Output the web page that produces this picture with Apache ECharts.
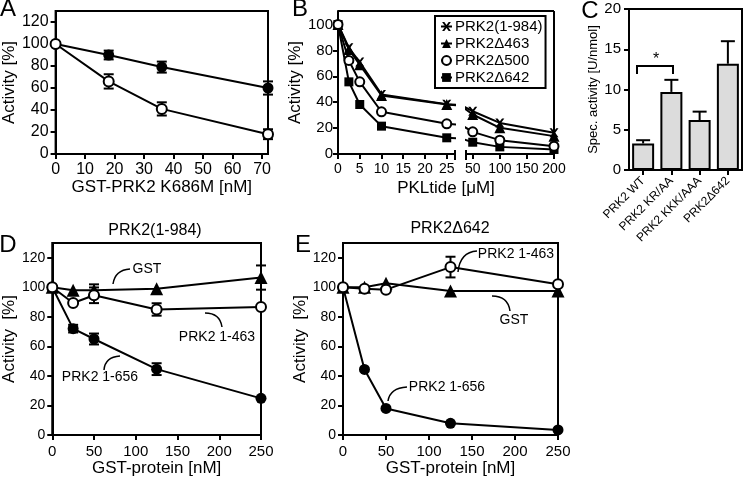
<!DOCTYPE html>
<html>
<head>
<meta charset="utf-8">
<script src="https://cdn.jsdelivr.net/npm/echarts@6/dist/echarts.min.js"></script>
<style>
  html, body { margin: 0; padding: 0; background: #fff; }
  #chart { width: 745px; height: 478px; }
</style>
</head>
<body>
<div id="chart"></div>
<script>
// ---- data ----
// A: GST-PRK2 K686M titration
const aDose = [0, 18, 36, 72]
const aFilled = [100, 90, 79, 60]
const aFilledErr = [0, 4, 5, 6]
const aOpen = [100, 66, 41, 18]
const aOpenErr = [0, 6.5, 6, 4.5]

// B: PKLtide titration (broken axis)
const pklDose = [0, 2.5, 5, 10, 25, 50, 100, 200]
const bNames = ['PRK2(1-984)', 'PRK2\u0394463', 'PRK2\u0394500', 'PRK2\u0394642']
const bFull = [100, 82, 71, 46, 38.5, 33, 24, 16.4]
const bD463 = [100, 80.7, 69, 45.2, 38.2, 30.5, 20.2, 13.8]
const bD500 = [100, 72.2, 55.7, 32.6, 23.3, 17.1, 10.7, 6]
const bD642 = [100, 55.7, 38.2, 21.5, 12.5, 9.1, 5.5, 3.5]
const bTicksLeft = [0, 5, 10, 15, 20, 25]
const bTicksRight = [50, 100, 150, 200]

// C: specific activity
const cCats = ['PRK2 WT', 'PRK2 KR/AA', 'PRK2 KKK/AAA', 'PRK2\u0394642']
const cVals = [3.3, 9.7, 6.2, 13.2]
const cErr = [0.4, 1.5, 1.05, 2.8]

// D: PRK2(1-984) + GST-proteins
const gstDose = [0, 25, 50, 125, 250]
const dGst = [100, 98, 98, 99, 106.6]
const dGstErr = [0, 0, 4, 0, 8.2]
const d463 = [100, 89.4, 94.6, 85, 86.7]
const d463Err = [0, 0, 5.3, 4.2, 0]
const d656 = [100, 72, 65, 44.6, 24.8]
const d656Err = [0, 2.6, 3.7, 4, 0]

// E: PRK2Δ642 + GST-proteins
const eGst = [100, 100, 102.7, 97.5, 97.5]
const e463 = [100, 99, 98.4, 113.7, 102]
const e463Err = [0, 0, 0, 7, 0]
const e656 = [100, 44.4, 18, 7.9, 3.4]

// ---- layout ----
const FONT = 'Liberation Sans, Arial, sans-serif'
const gA = { left: 52, top: 11, width: 216, height: 143 }
const gB1 = { left: 338, top: 11, width: 117, height: 143 }
const gB2 = { left: 466, top: 11, width: 88, height: 143 }
const gC = { left: 629, top: 9, width: 113, height: 161 }
const gD = { left: 49, top: 243, width: 212, height: 192 }
const gE = { left: 343, top: 243, width: 215, height: 192 }

const boxed = g => ({ ...g, show: true, borderColor: '#000', borderWidth: 2, containLabel: false })
const plain = g => ({ ...g, show: false, containLabel: false })

const axisBase = (fs, margin, hideMax) => ({
  axisLine: { show: true, onZero: false, lineStyle: { color: '#000', width: 2 } },
  axisTick: { show: true, length: 5, lineStyle: { color: '#000', width: 2 } },
  axisLabel: { color: '#000', fontSize: fs, fontFamily: FONT, margin: margin, showMaxLabel: !hideMax },
  splitLine: { show: false },
  nameTextStyle: { color: '#000', fontFamily: FONT, fontSize: 17 },
})

const CROSS = 'path://M0,0L2.5,0L5,3.2L7.5,0L10,0L6.4,5L10,10L7.5,10L5,6.8L2.5,10L0,10L3.6,5Z'

function line(name, idx, xs, ys, symbol, size, open, extra) {
  return Object.assign({
    name: name, type: 'line', xAxisIndex: idx, yAxisIndex: idx,
    data: xs.map((x, i) => [x, ys[i]]),
    symbol: symbol, symbolSize: size, showAllSymbol: true,
    lineStyle: { color: '#000', width: 2 },
    itemStyle: open ? { color: '#fff', borderColor: '#000', borderWidth: 2 } : { color: '#000', borderWidth: 0 },
    emphasis: { disabled: true }, animation: false, z: open ? 4 : 3,
  }, extra || {})
}

function errBars(idx, xs, ys, es, cap, upOnly) {
  return {
    type: 'custom', xAxisIndex: idx, yAxisIndex: idx, silent: true, animation: false, z: upOnly ? 5 : 2,
    data: xs.map((x, i) => [x, ys[i], es[i]]).filter(d => d[2] > 0),
    renderItem: (params, api) => {
      const x = api.value(0), y = api.value(1), e = api.value(2)
      const hi = api.coord([x, y + e])
      const lo = api.coord([x, upOnly ? y : y - e])
      const st = { stroke: '#000', lineWidth: 2 }
      const kids = [
        { type: 'line', shape: { x1: hi[0], y1: hi[1], x2: lo[0], y2: lo[1] }, style: st },
        { type: 'line', shape: { x1: hi[0] - cap, y1: hi[1], x2: hi[0] + cap, y2: hi[1] }, style: st },
      ]
      if (!upOnly) kids.push({ type: 'line', shape: { x1: lo[0] - cap, y1: lo[1], x2: lo[0] + cap, y2: lo[1] }, style: st })
      return { type: 'group', children: kids }
    },
  }
}

// B split into two x ranges; each half keeps one point past the break so the line runs to the gap
const leftIdx = pklDose.map((d, i) => i).filter(i => pklDose[i] <= 50)
const rightIdx = pklDose.map((d, i) => i).filter(i => pklDose[i] >= 25)
const pick = (arr, ids) => ids.map(i => arr[i])
const bSets = [
  [bNames[0], bFull, CROSS, 9, false],
  [bNames[1], bD463, 'triangle', 11, false],
  [bNames[2], bD500, 'circle', 9, true],
  [bNames[3], bD642, 'rect', 9, false],
]
const bSeries = []
bSets.forEach(([nm, vals, sym, sz, open]) => {
  bSeries.push(line(nm, 1, pick(pklDose, leftIdx), pick(vals, leftIdx), sym, sz, open, { clip: true, legendIcon: sym }))
  bSeries.push(line(nm, 2, pick(pklDose, rightIdx), pick(vals, rightIdx), sym, sz, open, { clip: true }))
})

// ---- annotation helpers ----
const txt = (x, y, s, size, align) => ({
  type: 'text', x: x, y: y, silent: true,
  style: { text: s, fontSize: size, fontFamily: FONT, fill: '#000', align: align || 'center', verticalAlign: 'middle' },
})
const curve = (x1, y1, cx, cy, x2, y2) => ({
  type: 'bezierCurve', silent: true,
  shape: { x1: x1, y1: y1, cpx1: cx, cpy1: cy, x2: x2, y2: y2 },
  style: { stroke: '#000', lineWidth: 1.5, fill: null },
})
const seg = (x1, y1, x2, y2) => ({
  type: 'line', silent: true, shape: { x1: x1, y1: y1, x2: x2, y2: y2 }, style: { stroke: '#000', lineWidth: 2 },
})

const bTop = gB1.top, bBottom = gB1.top + gB1.height, bRight = gB2.left + gB2.width

const option = {
  backgroundColor: '#fff',
  animation: false,
  grid: [boxed(gA), plain(gB1), plain(gB2), boxed(gC), boxed(gD), boxed(gE)],
  legend: {
    data: bNames, left: 435, top: 16, orient: 'vertical',
    borderColor: '#000', borderWidth: 2, padding: [3, 3, 3, 5], itemGap: 2,
    itemWidth: 11, itemHeight: 11, selectedMode: false,
    textStyle: { color: '#000', fontSize: 15, fontFamily: FONT, padding: [0, 0, 0, -2] },
  },
  xAxis: [
    Object.assign(axisBase(16, 8, true), { type: 'value', gridIndex: 0, min: 0, max: 72, interval: 10,
      name: 'GST-PRK2 K686M [nM]', nameLocation: 'middle', nameGap: 25 }),
    Object.assign(axisBase(14, 8), { type: 'value', gridIndex: 1, min: 0, max: 26.9,
      axisTick: { show: true, length: 5, lineStyle: { color: '#000', width: 2 }, customValues: bTicksLeft },
      axisLabel: { color: '#000', fontSize: 14, fontFamily: FONT, margin: 8, customValues: bTicksLeft } }),
    Object.assign(axisBase(14, 8), { type: 'value', gridIndex: 2, min: 37.6, max: 200,
      axisTick: { show: true, length: 5, lineStyle: { color: '#000', width: 2 }, customValues: bTicksRight },
      axisLabel: { color: '#000', fontSize: 14, fontFamily: FONT, margin: 8, customValues: bTicksRight } }),
    Object.assign(axisBase(12, 9), { type: 'category', gridIndex: 3, data: cCats,
      axisTick: { show: true, length: 5, alignWithLabel: true, lineStyle: { color: '#000', width: 2 } },
      axisLabel: { color: '#000', fontSize: 12, fontFamily: FONT, rotate: 45, margin: 9, interval: 0 } }),
    Object.assign(axisBase(15, 9), { type: 'value', gridIndex: 4, min: 0, max: 250, interval: 50,
      name: 'GST-protein [nM]', nameLocation: 'middle', nameGap: 25 }),
    Object.assign(axisBase(15, 9), { type: 'value', gridIndex: 5, min: 0, max: 250, interval: 50,
      name: 'GST-protein [nM]', nameLocation: 'middle', nameGap: 25 }),
  ],
  yAxis: [
    Object.assign(axisBase(16, 7, true), { type: 'value', gridIndex: 0, min: 0, max: 130, interval: 20,
      name: 'Activity [%]', nameLocation: 'middle', nameGap: 32 }),
    Object.assign(axisBase(15, 5, true), { type: 'value', gridIndex: 1, min: 0, max: 110.4, interval: 20,
      name: 'Activity [%]', nameLocation: 'middle', nameGap: 30 }),
    { type: 'value', gridIndex: 2, min: 0, max: 110.4, show: false },
    Object.assign(axisBase(15, 8), { type: 'value', gridIndex: 3, min: 0, max: 20, interval: 5,
      name: 'Spec. activity [U/nmol]', nameLocation: 'middle', nameGap: 22,
      nameTextStyle: { color: '#000', fontFamily: FONT, fontSize: 13 } }),
    Object.assign(axisBase(14, 7, true), { type: 'value', gridIndex: 4, min: 0, max: 130, interval: 20,
      name: 'Activity  [%]', nameLocation: 'middle', nameGap: 30 }),
    Object.assign(axisBase(14, 7, true), { type: 'value', gridIndex: 5, min: 0, max: 130, interval: 20,
      name: 'Activity  [%]', nameLocation: 'middle', nameGap: 30 }),
  ],
  series: [
    // A
    errBars(0, aDose, aFilled, aFilledErr, 5),
    errBars(0, aDose, aOpen, aOpenErr, 5),
    line('A filled', 0, aDose, aFilled, 'circle', 11, false),
    line('A open', 0, aDose, aOpen, 'circle', 10, true),
    // B
    ...bSeries,
    // C
    {
      type: 'bar', xAxisIndex: 3, yAxisIndex: 3, data: cVals, barWidth: 22, animation: false,
      itemStyle: { color: '#dcdcdc', borderColor: '#000', borderWidth: 2 }, emphasis: { disabled: true },
    },
    errBars(3, cVals.map((v, i) => i), cVals, cErr, 7, true),
    // D
    errBars(4, gstDose, dGst, dGstErr, 5),
    errBars(4, gstDose, d463, d463Err, 5),
    errBars(4, gstDose, d656, d656Err, 5),
    line('D GST', 4, gstDose, dGst, 'triangle', 13, false),
    line('D 1-463', 4, gstDose, d463, 'circle', 10, true),
    line('D 1-656', 4, gstDose, d656, 'circle', 11, false),
    // E
    errBars(5, gstDose, e463, e463Err, 5),
    line('E GST', 5, gstDose, eGst, 'triangle', 13, false),
    line('E 1-463', 5, gstDose, e463, 'circle', 10, true),
    line('E 1-656', 5, gstDose, e656, 'circle', 11, false),
  ],
  graphic: [
    // panel letters
    txt(8, 9, 'A', 24), txt(300, 9, 'B', 24), txt(590, 11, 'C', 24),
    txt(8, 245, 'D', 24), txt(303, 245, 'E', 24),
    // B frame: top, right, axis break marks, x-axis title
    seg(gB1.left, bTop, bRight, bTop),
    seg(bRight, bTop, bRight, bBottom),
    seg(gB1.left + gB1.width, bBottom - 4, gB1.left + gB1.width, bBottom + 6),
    seg(gB2.left, bBottom - 4, gB2.left, bBottom + 6),
    txt(446, 188, 'PKLtide [\u03bcM]', 17),
    // C significance bracket
    { type: 'polyline', silent: true, shape: { points: [[637, 74], [637, 66], [673, 66], [673, 74]] },
      style: { stroke: '#000', lineWidth: 2, fill: null } },
    txt(656, 60, '*', 16),
    // D/E titles
    txt(155, 231, 'PRK2(1-984)', 16), txt(450, 229, 'PRK2\u0394642', 16),
    // D annotations
    txt(147, 269, 'GST', 14), curve(113, 284, 115, 270, 130, 269),
    txt(217, 337, 'PRK2 1-463', 14), curve(205, 313, 220, 313, 222, 327),
    txt(100, 377, 'PRK2 1-656', 14), curve(104, 370, 105, 357, 120, 356),
    // E annotations
    txt(516, 254, 'PRK2 1-463', 14), curve(458, 272, 460, 252, 477, 251),
    txt(514, 320, 'GST', 14), curve(492, 296, 508, 296, 510, 311),
    txt(447, 387, 'PRK2 1-656', 14), curve(388, 401, 390, 388, 407, 387),
  ],
}

const chart = echarts.init(document.getElementById('chart'), null, { renderer: 'canvas' })
chart.setOption(option)
</script>
</body>
</html>
